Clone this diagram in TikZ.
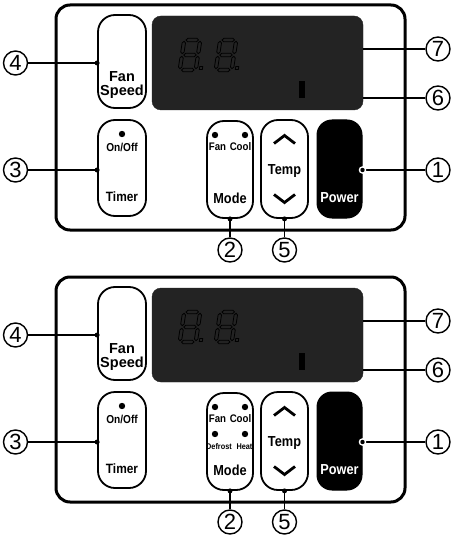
\documentclass[tikz,border=0pt]{standalone}
\usepackage{fontspec}
\setmainfont{Liberation Sans}
\newfontfamily\condfont[FakeStretch=0.88]{Liberation Sans}
\newcommand\myfs[1]{\fontsize{#1}{#1}\selectfont}
\definecolor{lcd}{HTML}{232323}
\tikzset{
  frame/.style={draw=black, line width=3pt, rounded corners=14pt},
  btn/.style={draw=black, line width=1.8pt, rounded corners=17pt, inner sep=0pt, fill=white},
  pwr/.style={fill=black, draw=black, line width=1pt, rounded corners=15pt, inner sep=0pt},
  lcdbox/.style={fill=lcd, draw=lcd, rounded corners=9pt, inner sep=0pt},
  lbl/.style={inner sep=0pt, font=\condfont\bfseries\myfs{14.5}},
  big/.style={inner sep=0pt, font=\bfseries\myfs{14.5}},
  small/.style={inner sep=0pt, font=\condfont\bfseries\myfs{11}},
  tiny/.style={inner sep=0pt, font=\condfont\bfseries\myfs{8.3}},
  callout/.style={circle, draw=black, line width=1.4pt, minimum size=24pt, inner sep=0pt, font=\myfs{22}, fill=white},
  lead/.style={draw=black, line width=1.6pt},
  seg/.style={draw=black, line width=0.8pt},
  chev/.style={draw=black, line width=2.8pt},
  ldot/.style={circle, fill=black, inner sep=0pt, minimum size=5pt},
}
\newcommand\hseg[2]{\draw[seg] ({#1-6.2},#2) -- ++(1.7,-1.7) -- ++(9,0) -- ++(1.7,1.7) -- ++(-1.7,1.7) -- ++(-9,0) -- cycle;}
\newcommand\vseg[2]{\draw[seg] (#1,{#2-6.2}) -- ++(1.7,1.7) -- ++(0,9) -- ++(-1.7,1.7) -- ++(-1.7,-1.7) -- ++(0,-9) -- cycle;}
\newcommand\digiteight[2]{%
  \begin{scope}[shift={(#1,#2)}, xslant=0.15]
    \hseg{0}{-15}\hseg{0}{0}\hseg{0}{15}
    \vseg{-8}{-7.5}\vseg{8}{-7.5}\vseg{-8}{7.5}\vseg{8}{7.5}
    \draw[seg] (11.5,14.5) rectangle ++(3,-3);
  \end{scope}}
\newcommand\drawpanel[3]{%
  \begin{scope}[shift={(0,#1)}]
    \draw[frame] (56,5) rectangle (405,230);
    % display
    \node[lcdbox, minimum width=211pt, minimum height=94pt] (disp#2) at (257.5,63) {};
    \digiteight{190}{55}
    \digiteight{226}{55}
    \fill[black] (299,81) rectangle (305,98);
    % buttons
    \node[btn, minimum width=48pt, minimum height=93pt] (fan#2) at (122,61.5) {};
    \node[big] (fant#2) at (122,77) {Fan};
    \node[big] (spd#2) at (122,91.5) {Speed};
    \node[btn, minimum width=48pt, minimum height=96pt] (timer#2) at (122,168) {};
    \fill[black] (122,134) circle (3.2pt);
    \node[small, font=\condfont\bfseries\myfs{11.5}] (onoff#2) at (122,147) {On/Off};
    \node[lbl, font=\condfont\bfseries\myfs{13.5}] (timert#2) at (122,197) {Timer};
    \node[btn, minimum width=46pt, minimum height=97pt] (mode#2) at (230,169.5) {};
    \fill[black] (215,135) circle (3.2pt);
    \fill[black] (245,135) circle (3.2pt);
    \node[small] (mfan#2) at (217.5,147) {Fan};
    \node[small] (mcool#2) at (240.5,147) {Cool};
    #3
    \node[lbl] (modet#2) at (230,198) {Mode};
    \node[btn, minimum width=47pt, minimum height=98pt] (temp#2) at (284.5,169) {};
    \draw[chev] (274,143.5) -- (284.5,135.5) -- (295,143.5);
    \node[lbl] (tempt#2) at (284.5,171) {Temp};
    \draw[chev] (274,194.5) -- (284.5,202.5) -- (295,194.5);
    \node[pwr, minimum width=45pt, minimum height=98pt] (power#2) at (339.5,169) {};
    \node[lbl, text=white] (powert#2) at (339.5,198) {Power};
    % callouts
    \node[callout] (c4#2) at (15.5,63) {4};
    \node[callout] (c3#2) at (15.5,170) {3};
    \node[callout] (c7#2) at (438,49) {7};
    \node[callout] (c6#2) at (438,98) {6};
    \node[callout] (c1#2) at (438,170) {1};
    \node[callout] (c2#2) at (230,250) {2};
    \node[callout] (c5#2) at (284.5,250) {5};
    % leaders
    \draw[lead] (c4#2.east) -- (c4#2.east -| fan#2.west) node[ldot] (d4#2) {};
    \draw[lead] (c3#2.east) -- (c3#2.east -| timer#2.west) node[ldot] (d3#2) {};
    \draw[lead] (c7#2.west -| disp#2.east) -- (c7#2.west);
    \draw[lead] (c6#2.west -| disp#2.east) -- (c6#2.west);
    \draw[lead] (c1#2.west -| power#2.east) coordinate (p1#2) -- (c1#2.west);
    \fill[white] (p1#2) circle (3.8pt);
    \fill[black] (p1#2) circle (2.2pt);
    \draw[lead] (c2#2.north) -- (mode#2.south) node[ldot] (d2#2) {};
    \draw[lead] (c5#2.north) -- (temp#2.south) node[ldot] (d5#2) {};
  \end{scope}}
\begin{document}
\begin{tikzpicture}[x=1pt,y=-1pt]
\useasboundingbox[fill=white] (0,0) rectangle (453,545);
\drawpanel{0}{a}{}
\drawpanel{272}{b}{%
    \fill[black] (215,162) circle (3.2pt);
    \fill[black] (245,162) circle (3.2pt);
    \node[tiny] (mdefb) at (219,175) {Defrost};
    \node[tiny] (mheatb) at (244.5,175) {Heat};}
\end{tikzpicture}
\end{document}
